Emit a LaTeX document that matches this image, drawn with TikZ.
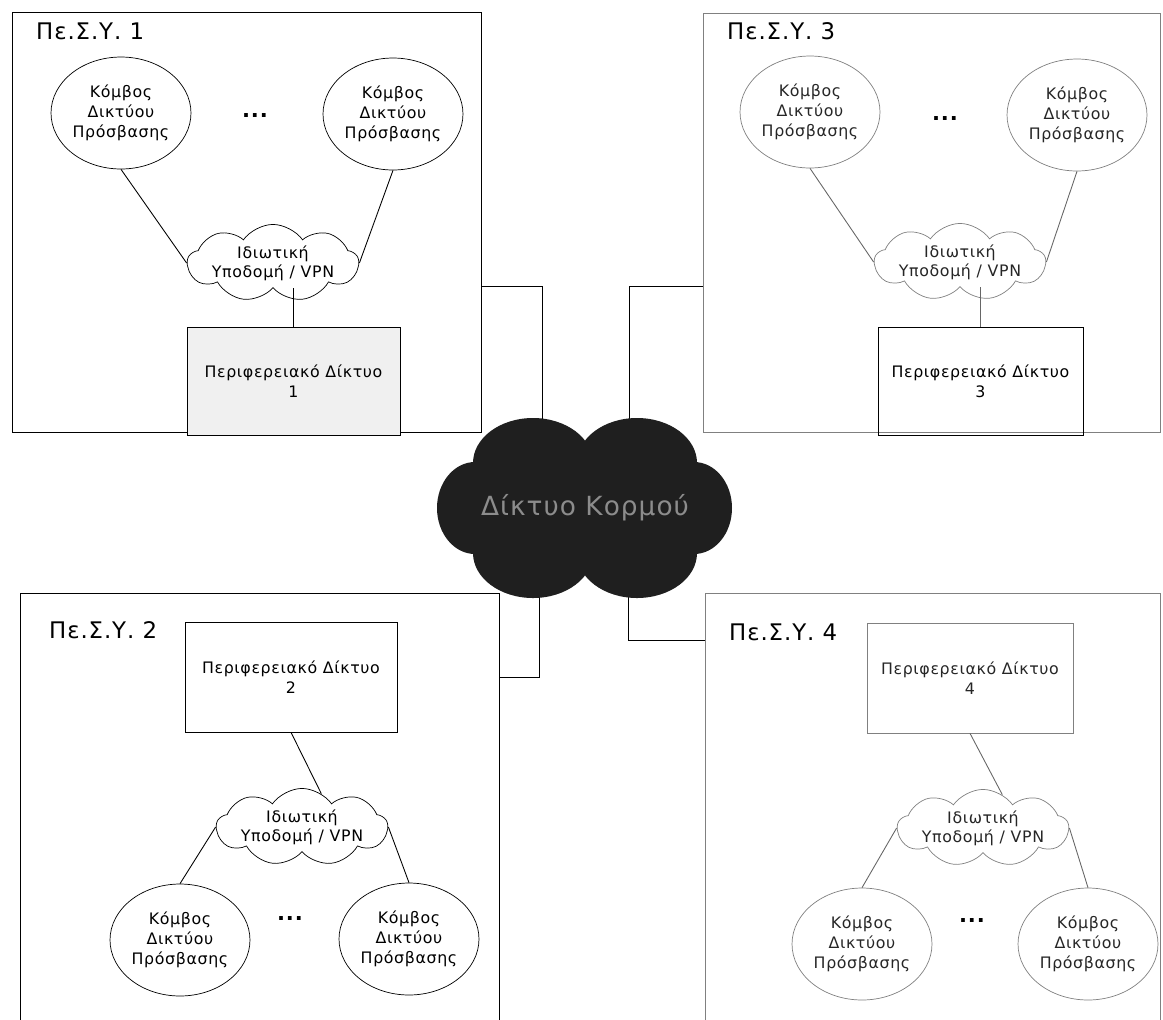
\documentclass[tikz,border=0pt]{standalone}
\usepackage{fontspec}
\setmainfont[LetterSpace=4]{DejaVu Sans}
\usetikzlibrary{shapes, backgrounds}

\begin{document}
\begin{tikzpicture}[x=0.02cm, y=-0.02cm,
  frame/.style={draw, line width=0.6pt, inner sep=0pt},
  title/.style={anchor=west, font=\fontsize{13}{15}\selectfont},
  kombos/.style={draw, ellipse, minimum width=2.8cm, minimum height=2.24cm, inner sep=0pt, align=center, font=\fontsize{9}{11.4}\selectfont},
  vpn/.style={draw, cloud, cloud puffs=9, cloud puff arc=110, cloud ignores aspect, minimum width=3.2cm, minimum height=1.44cm, inner sep=0pt, align=center, fill=white, font=\fontsize{9}{10.8}\selectfont},
  perif/.style={draw, minimum height=2.16cm, inner sep=0pt, align=center, font=\fontsize{9}{11.4}\selectfont},
  dots/.style={font=\fontsize{12}{12}\selectfont\bfseries},
  link/.style={line width=0.5pt},
  faded/.style={draw=black!50, text=black!85},
  coretext/.style={inner sep=0pt, text=black!45, font=\fontsize{15}{15}\selectfont}
]
\useasboundingbox (0,0) rectangle (1163,1019);

% Backbone cloud (filled bumps)
\fill[black!88] (490,447) rectangle (680,567);
\fill[black!88] (533,463) ellipse (60 and 45);
\fill[black!88] (637,463) ellipse (60 and 45);
\fill[black!88] (533,553) ellipse (60 and 45);
\fill[black!88] (637,553) ellipse (60 and 45);
\fill[black!88] (475,508) ellipse (38 and 46);
\fill[black!88] (694,508) ellipse (38 and 46);
\node[coretext] (core) at (585,508) {Δίκτυο Κορμού};

% Pe.S.Y. 1 (top left)
\node[frame, minimum width=9.4cm, minimum height=8.42cm] (box1) at (247,222.5) {};
\node[title] (t1) at (30,31) {Πε.Σ.Υ. 1};
\node[kombos] (n1a) at (121,113) {Κόμβος\\Δικτύου\\Πρόσβασης};
\node[kombos] (n1b) at (393,114) {Κόμβος\\Δικτύου\\Πρόσβασης};
\node[dots] (d1) at (255,115) {...};
\node[vpn] (v1) at (273,263) {Ιδιωτική\\Υποδομή / VPN};
\node[perif, minimum width=4.26cm, fill=black!6] (p1) at (293.5,381.5) {Περιφερειακό Δίκτυο\\1};
\draw[link] (n1a.south) -- (v1.west);
\draw[link] (n1b.south) -- (v1.east);
\draw[link] (p1.north) -- (p1.north |- v1.south);

% Pe.S.Y. 3 (top right)
\node[frame, faded, minimum width=9.16cm, minimum height=8.4cm] (box3) at (932,223) {};
\node[title] (t3) at (721,31) {Πε.Σ.Υ. 3};
\node[kombos, faded] (n3a) at (810,112) {Κόμβος\\Δικτύου\\Πρόσβασης};
\node[kombos, faded] (n3b) at (1077,115) {Κόμβος\\Δικτύου\\Πρόσβασης};
\node[dots] (d3) at (945,118) {...};
\node[vpn, faded] (v3) at (960,262) {Ιδιωτική\\Υποδομή / VPN};
\node[perif, minimum width=4.1cm] (p3) at (980.5,381.5) {Περιφερειακό Δίκτυο\\3};
\draw[link, black!60] (n3a.south) -- (v3.west);
\draw[link, black!60] (n3b.south) -- (v3.east);
\draw[link, black!60] (p3.north) -- (p3.north |- v3.south);

% Pe.S.Y. 2 (bottom left)
\node[frame, minimum width=9.6cm, minimum height=8.74cm] (box2) at (260,811.5) {};
\node[title] (t2) at (43,630) {Πε.Σ.Υ. 2};
\node[perif, minimum width=4.24cm, minimum height=2.2cm] (p2) at (291,677) {Περιφερειακό Δίκτυο\\2};
\node[vpn] (v2) at (302,827) {Ιδιωτική\\Υποδομή / VPN};
\node[kombos] (n2a) at (180,940) {Κόμβος\\Δικτύου\\Πρόσβασης};
\node[kombos] (n2b) at (409,939) {Κόμβος\\Δικτύου\\Πρόσβασης};
\node[dots] (d2) at (290,918) {...};
\draw[link] (p2.south) -- (v2.60);
\draw[link] (v2.west) -- (n2a.north);
\draw[link] (v2.east) -- (n2b.north);

% Pe.S.Y. 4 (bottom right)
\node[frame, faded, minimum width=9.12cm, minimum height=8.74cm] (box4) at (933,811.5) {};
\node[title] (t4) at (723,632) {Πε.Σ.Υ. 4};
\node[perif, faded, minimum width=4.12cm, minimum height=2.2cm] (p4) at (970,678) {Περιφερειακό Δίκτυο\\4};
\node[vpn, faded] (v4) at (983,828) {Ιδιωτική\\Υποδομή / VPN};
\node[kombos, faded] (n4a) at (862,944) {Κόμβος\\Δικτύου\\Πρόσβασης};
\node[kombos, faded] (n4b) at (1088,944) {Κόμβος\\Δικτύου\\Πρόσβασης};
\node[dots] (d4) at (972,920) {...};
\draw[link, black!60] (p4.south) -- (v4.60);
\draw[link, black!60] (v4.west) -- (n4a.north);
\draw[link, black!60] (v4.east) -- (n4b.north);

% links to the backbone
\coordinate (k1) at (542,286);
\coordinate (k3) at (629,286);
\coordinate (k2) at (539,677);
\coordinate (k4) at (628,640);
\begin{scope}[on background layer]
  \draw[link] (k1 -| box1.east) -- (k1) -- (k1 |- core.center);
  \draw[link] (k3 -| box3.west) -- (k3) -- (k3 |- core.center);
  \draw[link] (k2 -| box2.east) -- (k2) -- (k2 |- core.center);
  \draw[link] (k4 -| box4.west) -- (k4) -- (k4 |- core.center);
\end{scope}
\end{tikzpicture}
\end{document}
